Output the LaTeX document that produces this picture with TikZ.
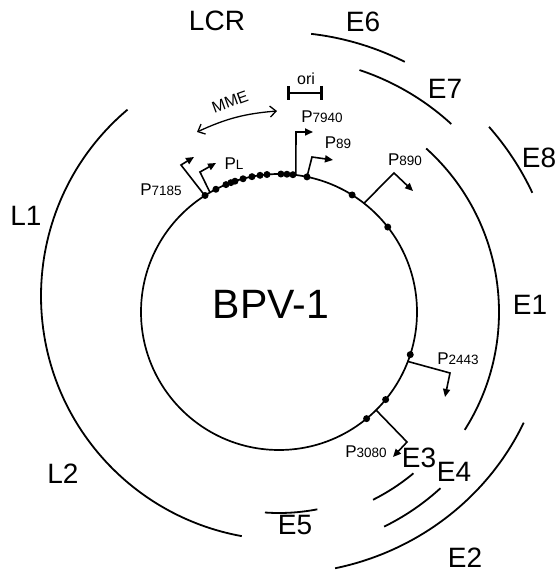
\documentclass[tikz,border=0pt]{standalone}
\usepackage{fontspec}
\setmainfont{Liberation Sans}
\usetikzlibrary{arrows.meta,calc}
\newcommand\dgt[1]{{\fontsize{13.5}{13.5}\selectfont #1}}
\begin{document}
\begin{tikzpicture}[x=1pt,y=1pt,
  genearc/.style={line width=1.8pt},
  lbl/.style={font=\fontsize{28}{28}\selectfont, inner sep=0pt},
  prom/.style={line width=1.6pt, -{Triangle[length=8pt,width=7pt]}},
  dotn/.style={circle, fill=black, inner sep=0pt, minimum size=7pt},
  plbl/.style={inner sep=0pt, font=\fontsize{17}{17}\selectfont}]
\useasboundingbox (0,0) rectangle (558,575);
\coordinate (C) at (279,263);
% genome circle
\draw[line width=1.7pt] (C) circle[radius=138];
\node[font=\fontsize{41}{41}\selectfont, inner sep=0pt] (bpv) at (271,271) {BPV-1};
% dots
\foreach \a [count=\i] in {122.4,117.2,112.6,110.4,108.6,105.1,101.3,97.9,95,89.2,86.7,84.2,78.3,58,38,-18,-39.4,-50.6}
  \node[dotn] (d\i) at ($(C)+(\a:138)$) {};
% gene arcs
\coordinate (LC) at (285,279);
\draw[genearc] ($(LC)+(130.2:244)$) arc[start angle=130.2, end angle=259.8, radius=244];
\draw[genearc] ($(C)+(83.4:280)$) arc[start angle=83.4, end angle=63.3, radius=280];
\draw[genearc] ($(C)+(41.4:280)$) arc[start angle=41.4, end angle=25.2, radius=280];
\draw[genearc] ($(C)+(71.6:255)$) arc[start angle=71.6, end angle=47.5, radius=255];
\draw[genearc] ($(C)+(48:220)$) arc[start angle=48, end angle=-32.4, radius=220];
\draw[genearc] ($(C)+(-50.2:210)$) arc[start angle=-50.2, end angle=-63.4, radius=210];
\draw[genearc] ($(C)+(-47.5:239)$) arc[start angle=-47.5, end angle=-63.9, radius=239];
\draw[genearc] ($(C)+({270*cos(-25)},{262*sin(-25)})$) arc[start angle=-25, end angle=-78, x radius=270, y radius=262];
\draw[genearc] ($(C)+(-94:201)$) arc[start angle=-94, end angle=-79, radius=201];
% gene labels
\node[lbl] (lcr) at (217,554) {LCR};
\node[lbl] (e6) at (363,553) {E6};
\node[lbl] (e7) at (445,486) {E7};
\node[lbl] (e8) at (539,417) {E8};
\node[lbl] (e1) at (530,270) {E1};
\node[lbl] (l1) at (26,359) {L1};
\node[lbl] (l2) at (63,101) {L2};
\node[lbl] (e3) at (419,117) {E3};
\node[lbl] (e4) at (454,103) {E4};
\node[lbl] (e2) at (465,17) {E2};
\node[lbl] (e5) at (295,50) {E5};
% promoters
\coordinate (b7185) at ($(C)+(122.5:138)$);
\coordinate (k7185) at (181,410);
\coordinate (t7185) at (194,418);
\draw[prom] (b7185) -- (k7185) -- (t7185);
\node[plbl] (p7185) at (161,385) {P\dgt{7185}};
\coordinate (bPL) at ($(C)+(120:138)$);
\coordinate (kPL) at (200,403);
\coordinate (tPL) at (216,412);
\draw[prom] (bPL) -- (kPL) -- (tPL);
\node[plbl] (pL) at (234,411) {P\dgt{L}};
\coordinate (b7940) at ($(C)+(83:138)$);
\coordinate (k7940) at (296,443);
\coordinate (t7940) at (313,443);
\draw[prom] (b7940) -- (k7940) -- (t7940);
\node[plbl] (p7940) at (322,458) {P\dgt{7940}};
\coordinate (b89) at ($(C)+(78.3:138)$);
\coordinate (k89) at (312,418);
\coordinate (t89) at (333,415);
\draw[prom] (b89) -- (k89) -- (t89);
\node[plbl] (p89) at (338,432) {P\dgt{89}};
\coordinate (b890) at ($(C)+(52:138)$);
\coordinate (k890) at (394,402);
\coordinate (t890) at (413,384);
\draw[prom] (b890) -- (k890) -- (t890);
\node[plbl] (p890) at (405,415) {P\dgt{890}};
\coordinate (b2443) at ($(C)+(-21:138)$);
\coordinate (k2443) at (450,202);
\coordinate (t2443) at (445,178);
\draw[prom] (b2443) -- (k2443) -- (t2443);
\node[plbl] (p2443) at (458,216) {P\dgt{2443}};
\coordinate (b3080) at ($(C)+(-45.3:138)$);
\coordinate (k3080) at (407,133);
\coordinate (t3080) at (393,118);
\draw[prom] (b3080) -- (k3080) -- (t3080);
\node[plbl] (p3080) at (366,123) {P\dgt{3080}};
% MME
\coordinate (m1) at (197,443);
\coordinate (m2) at (277,464);
\draw[line width=1.3pt, {Straight Barb[length=6pt,width=11pt]}-{Straight Barb[length=6pt,width=11pt]}] (m1) to[bend left=10] (m2);
\node[inner sep=0pt, font=\fontsize{16}{16}\selectfont, rotate=20] (mme) at (230,473) {MME};
% ori
\coordinate (o1) at (287,482);
\coordinate (o2) at (323,482);
\draw[line width=2.8pt, {Bar[width=14pt]}-{Bar[width=14pt]}] (o1) -- (o2);
\node[inner sep=0pt, font=\fontsize{16}{16}\selectfont] (ori) at (306,496) {ori};
\end{tikzpicture}
\end{document}
